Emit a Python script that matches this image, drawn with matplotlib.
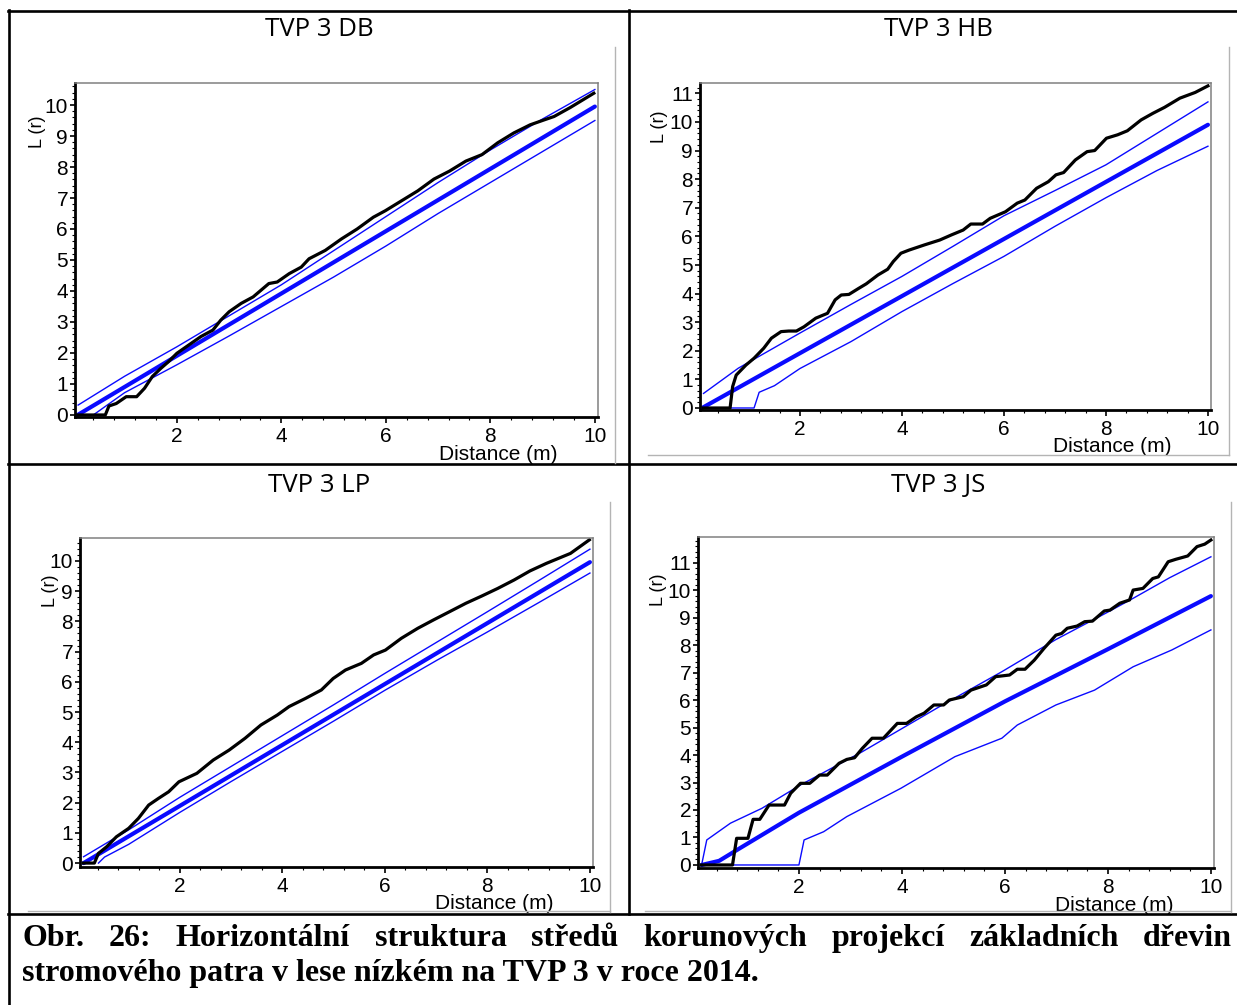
import matplotlib
matplotlib.use('Agg')
import matplotlib.pyplot as plt
from matplotlib.lines import Line2D
from matplotlib.ticker import MultipleLocator

# ---- values ----
# TVP 3 DB
db_obs_r = [0.11, 0.63, 0.70, 0.84, 1.03, 1.23, 1.38, 1.53, 1.69, 1.84, 2.0, 2.23, 2.46, 2.69, 2.84,
            3.0, 3.23, 3.46, 3.76, 3.92, 4.15, 4.38, 4.53, 4.84, 5.15, 5.45, 5.76, 5.99, 6.30, 6.61,
            6.92, 7.22, 7.53, 7.84, 8.14, 8.45, 8.76, 9.03, 9.22, 9.53, 9.98]
db_obs_L = [0, 0, 0.29, 0.37, 0.59, 0.59, 0.86, 1.24, 1.50, 1.72, 1.99, 2.26, 2.53, 2.74, 3.06,
            3.33, 3.60, 3.81, 4.24, 4.29, 4.56, 4.77, 5.04, 5.31, 5.68, 6.0, 6.38, 6.59, 6.91, 7.23,
            7.61, 7.87, 8.19, 8.40, 8.78, 9.1, 9.36, 9.52, 9.63, 9.92, 10.38]
db_hi_r = [0.11, 1, 2, 3, 4, 5, 6, 7, 8, 9, 10]
db_hi = [0.32, 1.25, 2.2, 3.2, 4.2, 5.3, 6.4, 7.5, 8.55, 9.55, 10.5]
db_lo_r = [0.4, 1, 2, 3, 4, 5, 6, 7, 8, 9, 10]
db_lo = [0.0, 0.72, 1.62, 2.55, 3.5, 4.45, 5.45, 6.5, 7.5, 8.5, 9.5]
db_th_r = [0.1, 10]
db_th = [0.0, 9.95]

# TVP 3 HB
hb_obs_r = [0.11, 0.63, 0.68, 0.75, 0.94, 1.10, 1.29, 1.44, 1.63, 1.78, 1.93, 2.08, 2.31, 2.54, 2.69,
            2.81, 2.96, 3.15, 3.30, 3.53, 3.72, 3.83, 3.98, 4.14, 4.44, 4.74, 4.97, 5.20, 5.35, 5.58,
            5.73, 6.03, 6.26, 6.41, 6.64, 6.87, 7.02, 7.17, 7.40, 7.63, 7.78, 8.01, 8.23, 8.42, 8.69,
            8.92, 9.15, 9.45, 9.75, 10.0]
hb_obs_L = [0, 0, 0.75, 1.15, 1.50, 1.74, 2.09, 2.44, 2.67, 2.69, 2.69, 2.84, 3.14, 3.31, 3.78,
            3.95, 3.97, 4.18, 4.34, 4.65, 4.85, 5.12, 5.41, 5.52, 5.70, 5.87, 6.05, 6.22, 6.43, 6.43,
            6.63, 6.86, 7.16, 7.27, 7.68, 7.91, 8.15, 8.23, 8.67, 8.96, 9.0, 9.43, 9.55, 9.69, 10.07,
            10.3, 10.51, 10.83, 11.03, 11.26]
hb_hi_r = [0.11, 0.79, 2, 3, 4, 5, 6, 7, 8, 9, 10]
hb_hi = [0.51, 1.39, 2.62, 3.62, 4.6, 5.65, 6.72, 7.6, 8.5, 9.6, 10.7]
hb_lo_r = [0.11, 1.1, 1.2, 1.5, 2, 3, 4, 5, 6, 7, 8, 9, 10]
hb_lo = [0, 0, 0.55, 0.78, 1.38, 2.32, 3.37, 4.35, 5.3, 6.35, 7.35, 8.3, 9.15]
hb_th_r = [0.08, 10]
hb_th = [0.0, 9.9]

# TVP 3 LP
lp_obs_r = [0.12, 0.33, 0.41, 0.57, 0.76, 1.0, 1.19, 1.39, 1.58, 1.78, 1.98, 2.33, 2.65, 2.96, 3.27,
            3.58, 3.90, 4.13, 4.45, 4.76, 4.99, 5.23, 5.54, 5.78, 6.01, 6.32, 6.64, 6.95, 7.26, 7.58,
            7.89, 8.2, 8.52, 8.83, 9.15, 9.62, 9.99]
lp_obs_L = [0, 0, 0.32, 0.54, 0.87, 1.15, 1.48, 1.92, 2.14, 2.36, 2.69, 2.97, 3.41, 3.74, 4.13,
            4.57, 4.90, 5.18, 5.45, 5.73, 6.11, 6.39, 6.61, 6.89, 7.05, 7.44, 7.77, 8.05, 8.32, 8.60,
            8.84, 9.09, 9.37, 9.67, 9.92, 10.25, 10.7]
lp_hi_r = [0.12, 1, 2, 3, 4, 5, 6, 7, 8, 9, 10]
lp_hi = [0.21, 1.1, 2.18, 3.2, 4.22, 5.24, 6.28, 7.3, 8.32, 9.35, 10.39]
lp_lo_r = [0.41, 0.53, 1, 2, 3, 4, 5, 6, 7, 8, 9, 10]
lp_lo = [0, 0.2, 0.62, 1.68, 2.7, 3.7, 4.7, 5.72, 6.7, 7.65, 8.62, 9.6]
lp_th_r = [0.12, 10]
lp_th = [0.0, 9.96]

# TVP 3 JS
js_obs_r = [0.11, 0.71, 0.79, 1.01, 1.11, 1.24, 1.42, 1.72, 1.84, 2.03, 2.21, 2.40, 2.55, 2.78, 2.93,
            3.08, 3.23, 3.42, 3.64, 3.91, 4.09, 4.28, 4.43, 4.62, 4.81, 4.92, 5.19, 5.34, 5.64, 5.82,
            6.09, 6.24, 6.39, 6.57, 6.76, 6.99, 7.10, 7.21, 7.40, 7.55, 7.70, 7.93, 8.04, 8.23, 8.42,
            8.49, 8.68, 8.87, 8.98, 9.17, 9.32, 9.55, 9.73, 9.88, 10.0]
js_obs_L = [0, 0, 0.97, 0.97, 1.66, 1.66, 2.18, 2.18, 2.61, 2.97, 2.97, 3.27, 3.27, 3.70, 3.84,
            3.90, 4.24, 4.61, 4.61, 5.15, 5.15, 5.39, 5.52, 5.82, 5.82, 6.0, 6.12, 6.36, 6.55, 6.85,
            6.91, 7.12, 7.12, 7.45, 7.88, 8.36, 8.42, 8.61, 8.69, 8.85, 8.87, 9.24, 9.27, 9.52, 9.64,
            10.0, 10.06, 10.42, 10.48, 11.03, 11.12, 11.24, 11.58, 11.67, 11.82]
js_hi_r = [0.11, 0.21, 0.67, 1.28, 2.03, 3.23, 4.73, 5.94, 6.99, 8.0, 8.49, 9.2, 10]
js_hi = [0, 0.91, 1.52, 2.06, 2.91, 4.12, 5.76, 7.03, 8.2, 9.2, 9.7, 10.45, 11.21]
js_lo_r = [0.11, 2.0, 2.1, 2.48, 2.93, 3.98, 5.03, 5.94, 6.24, 6.99, 7.74, 8.49, 9.24, 10]
js_lo = [0, 0, 0.91, 1.21, 1.76, 2.79, 3.94, 4.61, 5.09, 5.82, 6.36, 7.21, 7.82, 8.55]
js_th_r = [0.11, 0.45, 0.8, 2, 4, 6, 8, 10]
js_th = [0, 0.15, 0.55, 1.9, 3.94, 5.95, 7.85, 9.78]

titles = ['TVP 3 DB', 'TVP 3 HB', 'TVP 3 LP', 'TVP 3 JS']
caption1 = 'Obr. 26: Horizontální struktura středů korunových projekcí základních dřevin'
caption2 = 'stromového patra v lese nízkém na TVP 3 v roce 2014.'

W, H = 1237, 1005


def fx(px):
    return px / W


def fy(py):
    return 1 - py / H


fig = plt.figure(figsize=(W / 100, H / 100), dpi=100)
fig.patch.set_facecolor('white')

panels = [
    dict(obs=(db_obs_r, db_obs_L), hi=(db_hi_r, db_hi), lo=(db_lo_r, db_lo), th=(db_th_r, db_th),
         box=(75, 83, 598, 417), xlim=(0.05, 10.06), ylim=(-0.065, 10.71), ymax=10,
         title_at=(319, 30), ylab=(-0.071, 0.853), xlab=(0.81, -0.113)),
    dict(obs=(hb_obs_r, hb_obs_L), hi=(hb_hi_r, hb_hi), lo=(hb_lo_r, hb_lo), th=(hb_th_r, hb_th),
         box=(700, 83, 1211, 410), xlim=(0.04, 10.06), ylim=(-0.07, 11.36), ymax=11,
         title_at=(938, 30), ylab=(-0.08, 0.865), xlab=(0.806, -0.113)),
    dict(obs=(lp_obs_r, lp_obs_L), hi=(lp_hi_r, lp_hi), lo=(lp_lo_r, lp_lo), th=(lp_th_r, lp_th),
         box=(80, 538, 593, 867), xlim=(0.05, 10.06), ylim=(-0.13, 10.76), ymax=10,
         title_at=(319, 485), ylab=(-0.058, 0.84), xlab=(0.807, -0.111)),
    dict(obs=(js_obs_r, js_obs_L), hi=(js_hi_r, js_hi), lo=(js_lo_r, js_lo), th=(js_th_r, js_th),
         box=(698, 537, 1214, 868), xlim=(0.04, 10.06), ylim=(-0.11, 11.93), ymax=11,
         title_at=(938, 485), ylab=(-0.076, 0.84), xlab=(0.806, -0.114)),
]

blue = '#0a0aff'
for title, p in zip(titles, panels):
    l, t, r, b = p['box']
    ax = fig.add_axes([fx(l), fy(b), (r - l) / W, (b - t) / H])
    ax.plot(*p['hi'], color=blue, lw=1.0)
    ax.plot(*p['lo'], color=blue, lw=1.0)
    ax.plot(*p['th'], color=blue, lw=3.0, solid_capstyle='round', solid_joinstyle='round')
    ax.plot(*p['obs'], color='black', lw=2.3, solid_joinstyle='round')
    ax.set_xlim(*p['xlim'])
    ax.set_ylim(*p['ylim'])
    ax.set_xticks([2, 4, 6, 8, 10])
    ax.set_yticks(range(0, p['ymax'] + 1))
    ax.xaxis.set_minor_locator(MultipleLocator(0.4))
    ax.yaxis.set_minor_locator(MultipleLocator(0.2))
    ax.tick_params(which='major', direction='out', length=4.5, width=1.2, color='black',
                   labelsize=15, pad=3.0)
    ax.tick_params(which='minor', direction='out', length=2.2, width=0.8, color='black')
    ax.tick_params(axis='y', which='major', length=3.5, pad=1.5)
    for lab in ax.get_xticklabels() + ax.get_yticklabels():
        lab.set_family('Liberation Sans')
    for side in ('left', 'bottom'):
        ax.spines[side].set_linewidth(2.0)
        ax.spines[side].set_color('black')
    for side in ('top', 'right'):
        ax.spines[side].set_linewidth(1.1)
        ax.spines[side].set_color('#808080')
    ax.text(*p['ylab'], 'L (r)', rotation=90, ha='center', va='center', fontsize=13,
            family='Liberation Sans', transform=ax.transAxes)
    ax.text(*p['xlab'], 'Distance (m)', ha='center', va='center', fontsize=15,
            family='Liberation Sans', transform=ax.transAxes)
    fig.text(fx(p['title_at'][0]), fy(p['title_at'][1]), title, ha='center', va='center',
             fontsize=18.5, family='Open Sans')


def hline(y, x0, x1, **kw):
    fig.add_artist(Line2D([fx(x0), fx(x1)], [fy(y), fy(y)], **kw))


def vline(x, y0, y1, **kw):
    fig.add_artist(Line2D([fx(x), fx(x)], [fy(y0), fy(y1)], **kw))


# table frame around the four charts
frame = dict(color='black', lw=1.9)
hline(11, 8, 1237, **frame)
hline(464, 8, 1237, **frame)
hline(914, 8, 1237, **frame)
vline(9, 10, 1005, **frame)
vline(629, 10, 914, **frame)

# light borders of the chart images
edge = dict(color='#b4b4b4', lw=1.0)
vline(615, 47, 463, **edge)
vline(1229, 47, 455, **edge)
hline(455, 648, 1229, **edge)
vline(610, 502, 912, **edge)
hline(911, 28, 610, **edge)
vline(1231, 502, 912, **edge)
hline(911, 645, 1231, **edge)

# caption, first line justified
cap = dict(fontsize=23, fontweight='bold', family='Liberation Serif', va='baseline')
fig.canvas.draw()
renderer = fig.canvas.get_renderer()
words = caption1.split()
texts = [fig.text(0, fy(946), w, **cap) for w in words]
widths = [t.get_window_extent(renderer).width for t in texts]
gap = (1232 - 22 - sum(widths)) / (len(words) - 1)
x = 22
for t, w in zip(texts, widths):
    t.set_x(fx(x))
    x += w + gap
fig.text(fx(22), fy(981), caption2, **cap)

fig.savefig('out.png', dpi=100, facecolor='white')
